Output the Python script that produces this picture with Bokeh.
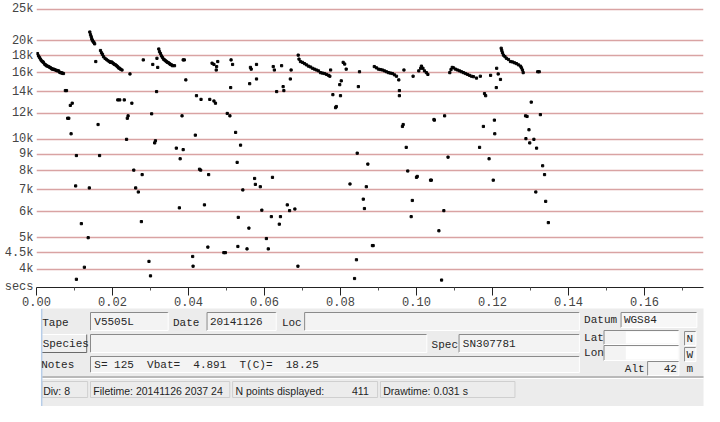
import numpy as np
from bokeh.plotting import figure
from bokeh.layouts import column
from bokeh.models import Range1d, FixedTicker, PrintfTickFormatter
from bokeh.embed import file_html
from bokeh.resources import INLINE
from bokeh.core.properties import value

# ---------------- data (time in s, frequency in kHz) ----------------
call1_t = [0.00026, 0.00053, 0.00079, 0.00105, 0.0013, 0.0016, 0.0018, 0.0021, 0.0024, 0.0026,
           0.0029, 0.0032, 0.0035, 0.0037, 0.0040, 0.0042, 0.0045, 0.0047, 0.0050, 0.0053,
           0.0055, 0.0058, 0.0061, 0.0063, 0.0066, 0.0068, 0.0071]
call1_f = [18.3, 18.0, 17.8, 17.6, 17.4, 17.3, 17.2, 17.0, 16.9, 16.8,
           16.75, 16.7, 16.6, 16.55, 16.45, 16.4, 16.4, 16.35, 16.3, 16.25,
           16.2, 16.2, 16.05, 16.0, 15.97, 15.95, 15.9]
call2_t = [0.01403, 0.01421, 0.0144, 0.01455, 0.0147, 0.0149, 0.0151, 0.0153]
call2_f = [21.3, 20.9, 20.6, 20.3, 20.1, 19.9, 19.8, 19.6]
call3_t = [0.01684, 0.01711, 0.01737, 0.01763, 0.01803, 0.01842, 0.01882, 0.01921, 0.01947, 0.01974,
           0.02, 0.02026, 0.02053, 0.02079, 0.02105, 0.02132, 0.02158, 0.02184, 0.02211, 0.0225]
call3_f = [18.7, 18.4, 18.2, 17.9, 17.7, 17.55, 17.4, 17.3, 17.2, 17.25,
           17.15, 17.05, 16.95, 16.9, 16.8, 16.7, 16.55, 16.5, 16.4, 16.3]
call4_t = [0.03218, 0.03237, 0.03263, 0.03289, 0.03316, 0.03342, 0.03368, 0.03395, 0.03421, 0.03447,
           0.03474, 0.035, 0.03526, 0.03553, 0.03579, 0.03632]
call4_f = [18.9, 18.55, 18.3, 18.0, 17.8, 17.6, 17.5, 17.4, 17.3, 17.2,
           17.15, 17.05, 16.95, 16.9, 16.8, 16.8]
call5_t = [0.06887, 0.06908, 0.06947, 0.07, 0.07053, 0.07105, 0.07158, 0.07211, 0.07263, 0.07316,
           0.07368, 0.07421, 0.07474, 0.07526, 0.07579, 0.07632, 0.07684]
call5_f = [18.1, 17.6, 17.3, 17.2, 17.05, 16.9, 16.75, 16.65, 16.5, 16.4,
           16.3, 16.2, 16.0, 15.95, 15.9, 15.8, 15.7]
call6_t = [0.0889, 0.08947, 0.09, 0.09053, 0.09105, 0.09158, 0.09211, 0.09263, 0.09316, 0.09368,
           0.09421, 0.09474, 0.09534]
call6_f = [16.7, 16.55, 16.4, 16.35, 16.3, 16.2, 16.1, 16.0, 15.95, 15.9, 15.75, 15.6, 15.2]
call7_t = [0.1006, 0.1011, 0.1013, 0.1017, 0.1021, 0.1026, 0.103]
call7_f = [16.2, 16.5, 16.75, 16.5, 16.2, 16.0, 15.8]
call8_t = [0.10876, 0.10908, 0.1094, 0.10974, 0.11026, 0.11079, 0.11132, 0.11184, 0.11237, 0.11289,
           0.11342, 0.11395, 0.11447, 0.115, 0.11579]
call8_f = [16.0, 16.35, 16.6, 16.55, 16.4, 16.3, 16.2, 16.1, 16.0, 15.9,
           15.8, 15.7, 15.6, 15.55, 15.4]
call9_t = [0.12229, 0.12245, 0.12263, 0.12289, 0.12329, 0.12368, 0.12421, 0.12474, 0.12526, 0.12579,
           0.12632, 0.12684, 0.12737, 0.12763, 0.12789, 0.12808]
call9_f = [19.0, 18.7, 18.4, 18.1, 17.9, 17.7, 17.55, 17.3, 17.25, 17.15,
           17.05, 16.9, 16.75, 16.55, 16.3, 16.0]

upper_t = [0.0076, 0.0079, 0.0094, 0.0089, 0.0082, 0.0085, 0.0091, 0.0156, 0.0162,
           0.0246, 0.0214, 0.0219, 0.0231, 0.0251, 0.0241, 0.0239, 0.0237,
           0.0281, 0.0303, 0.0306, 0.0316, 0.0313, 0.0311, 0.0319, 0.0317,
           0.0386, 0.0389, 0.0393, 0.0421, 0.0433, 0.0383, 0.0418, 0.0368, 0.0386,
           0.0462, 0.0467, 0.0477, 0.0474, 0.0473,
           0.0512, 0.0516, 0.0563, 0.0565, 0.0579, 0.0623, 0.0626, 0.0645, 0.067,
           0.0511, 0.0561, 0.0579, 0.0632, 0.0649, 0.0651, 0.0668,
           0.0456, 0.0467, 0.0471, 0.0502, 0.0509, 0.0524, 0.0537,
           0.0807, 0.0811, 0.0815, 0.085, 0.0774, 0.0772, 0.0798, 0.0802, 0.0847, 0.078, 0.08, 0.0787, 0.0789,
           0.0967, 0.0991, 0.0955, 0.0955, 0.0965, 0.0963, 0.0973,
           0.1046, 0.1047, 0.1074,
           0.1168, 0.1182, 0.1179, 0.1176, 0.1166, 0.1195, 0.1211, 0.1215, 0.1221, 0.121, 0.1205, 0.1206,
           0.1319, 0.1323, 0.1302, 0.1287, 0.1291, 0.1326, 0.1296, 0.1288, 0.1298, 0.1309, 0.1316]
upper_f = [14.1, 14.1, 12.9, 12.7, 11.6, 11.6, 10.4, 17.3, 11.1,
           15.85, 13.2, 13.2, 13.2, 12.9, 11.8, 11.6, 10.0,
           17.5, 11.97, 16.95, 14.0, 9.9, 9.75, 16.6, 17.7,
           17.5, 17.5, 15.2, 13.6, 13.25, 11.8, 10.3, 9.4, 9.3,
           17.1, 16.95, 17.3, 16.7, 16.3,
           17.5, 16.95, 16.6, 16.4, 16.95, 16.7, 16.3, 16.8, 16.3,
           14.4, 14.8, 15.3, 14.0, 14.5, 14.1, 15.3,
           13.25, 13.1, 12.9, 12.0, 11.8, 10.5, 9.6,
           17.2, 17.0, 16.4, 16.1, 16.3, 15.6, 14.7, 15.1, 14.5, 13.7, 13.6, 12.5, 12.6,
           16.3, 15.6, 14.1, 13.6, 11.1, 10.95, 9.45,
           11.5, 11.45, 11.8,
           15.6, 13.6, 13.8, 10.95, 9.45, 15.7, 16.5, 15.85, 15.25, 14.4, 11.45, 10.4,
           16.1, 16.1, 13.0, 11.8, 11.75, 11.9, 10.7, 10.05, 9.75, 10.0, 9.4]

lower_t = [0.0105, 0.0166, 0.0378, 0.0256, 0.0278, 0.0429, 0.0432, 0.0103, 0.0139, 0.0261, 0.0268,
           0.0376, 0.0442, 0.0118, 0.0276, 0.0136, 0.0296, 0.0411, 0.0412, 0.0126, 0.0105, 0.03,
           0.0844, 0.0528, 0.0872, 0.0453, 0.0574, 0.0576, 0.0589, 0.0621, 0.0543, 0.0825, 0.0868,
           0.086, 0.0863, 0.0593, 0.066, 0.0666, 0.068, 0.0531, 0.0618, 0.0642, 0.0639, 0.0559,
           0.0605, 0.0451, 0.053, 0.0554, 0.0493, 0.0497, 0.061, 0.0886, 0.0884, 0.0842, 0.0688, 0.0837,
           0.1083, 0.1191, 0.1332, 0.0977, 0.1, 0.1002, 0.1039, 0.1037, 0.1202, 0.1337, 0.1314,
           0.0989, 0.134, 0.1072, 0.0986, 0.1347, 0.1059, 0.1066]
lower_f = [8.92, 8.92, 8.72, 8.05, 7.8, 8.1, 8.05, 7.2, 7.1, 7.1, 6.9,
           6.17, 6.3, 5.52, 5.6, 5.0, 4.23, 4.38, 4.09, 4.06, 3.73, 3.82,
           9.07, 8.5, 8.4, 7.8, 7.59, 7.28, 7.16, 7.65, 7.0, 7.3, 7.16,
           6.56, 6.14, 6.07, 6.3, 6.05, 6.12, 5.77, 5.8, 5.8, 5.5, 5.35,
           4.97, 4.68, 4.7, 4.62, 4.5, 4.5, 4.62, 4.73, 4.73, 4.28, 4.09, 3.75,
           8.82, 8.72, 8.3, 8.0, 7.65, 7.7, 7.5, 7.5, 7.5, 7.8, 6.9,
           6.5, 6.46, 6.05, 5.8, 5.56, 5.25, 3.71]

y_ticks = [4000, 4500, 5000, 6000, 7000, 8000, 9000, 10000, 12000, 14000, 16000, 18000, 20000, 25000]
y_labels = ["4k", "4.5k", "5k", "6k", "7k", "8k", "9k", "10k", "12k", "14k", "16k", "18k", "20k", "25k"]
x_ticks = [0.0, 0.02, 0.04, 0.06, 0.08, 0.10, 0.12, 0.14, 0.16, 0.18]
x_minor = [0.01, 0.03, 0.05, 0.07, 0.09, 0.11, 0.13, 0.15, 0.17]

t_all = np.array(call1_t + call2_t + call3_t + call4_t + call5_t + call6_t + call7_t + call8_t + call9_t + upper_t + lower_t)
f_all = np.array(call1_f + call2_f + call3_f + call4_f + call5_f + call6_f + call7_f + call8_f + call9_f + upper_f + lower_f) * 1000.0

MONO_NAME = "'Liberation Mono'"
MONO = value(MONO_NAME)
SANS = value("Liberation Sans")
NB = "\u00a0"

# ---------------- chart ----------------
H_A = 308
p = figure(width=704, height=H_A, x_range=Range1d(0, 0.17553), y_range=Range1d(3520, 26600),
           y_axis_type="log", output_backend="svg", toolbar_location=None,
           min_border_left=36, min_border_right=1, min_border_top=0, min_border_bottom=0)
p.outline_line_color = None
p.background_fill_color = "white"
p.border_fill_color = "white"

p.yaxis.ticker = FixedTicker(ticks=[3530] + y_ticks)
ov = {3530: "secs"}
for tk, lb in zip(y_ticks, y_labels):
    ov[tk] = lb
p.yaxis.major_label_overrides = ov
p.yaxis.axis_line_color = None
p.yaxis.major_tick_out = 0
p.yaxis.major_tick_in = 0
p.yaxis.minor_tick_out = 0
p.yaxis.minor_tick_in = 0
p.yaxis.major_label_standoff = 3
p.yaxis.major_label_text_font = MONO_NAME
p.yaxis.major_label_text_font_size = "12px"
p.yaxis.major_label_text_color = "#444444"

p.xaxis.ticker = FixedTicker(ticks=x_ticks, minor_ticks=x_minor)
p.xaxis.formatter = PrintfTickFormatter(format="%.2f")
p.xaxis.axis_line_color = "#222222"
p.xaxis.major_tick_line_color = "#222222"
p.xaxis.minor_tick_line_color = "#555555"
p.xaxis.major_tick_out = 8
p.xaxis.major_tick_in = 0
p.xaxis.minor_tick_out = 3
p.xaxis.minor_tick_in = 0
p.xaxis.major_label_standoff = 1
p.xaxis.major_label_text_font = MONO_NAME
p.xaxis.major_label_text_font_size = "12px"
p.xaxis.major_label_text_color = "#444444"

p.xgrid.visible = False
p.ygrid.ticker = FixedTicker(ticks=y_ticks)
p.ygrid.grid_line_color = "#d9a3a3"
p.ygrid.grid_line_width = 1.5

p.scatter(t_all, f_all, marker="square", size=2.2, color="black")

# ---------------- form panel (reference pixel space) ----------------
fb = figure(width=704, height=406 - H_A, x_range=Range1d(0, 704), y_range=Range1d(406, H_A),
            output_backend="svg", toolbar_location=None, min_border=0,
            x_axis_location=None, y_axis_location=None)
fb.grid.visible = False
fb.outline_line_color = None
fb.background_fill_color = "white"
fb.border_fill_color = "white"

fb.quad(left=[6], right=[707], top=[305], bottom=[407], fill_color="#ececec", line_color=None)

def sunken(l, r, t, b, fill="#f3f3f3"):
    fb.quad(left=[l], right=[r], top=[t], bottom=[b], fill_color=fill, line_color=None)
    fb.segment(x0=[l, l], y0=[t, t], x1=[r, l], y1=[t, b], line_color="#8a8a8a", line_width=1)
    fb.segment(x0=[l, r], y0=[b, t], x1=[r, r], y1=[b, b], line_color="#ffffff", line_width=1)

def raised(l, r, t, b):
    fb.quad(left=[l], right=[r], top=[t], bottom=[b], fill_color="#f0f0f0", line_color=None)
    fb.segment(x0=[l, l], y0=[t, t], x1=[r, l], y1=[t, b], line_color="#ffffff", line_width=1)
    fb.segment(x0=[l, r], y0=[b, t], x1=[r, r], y1=[b, b], line_color="#6a6a6a", line_width=1)

for box in [(57, 139, 312, 330), (180, 253, 312, 330), (283, 573, 312, 330),
            (57, 412, 334, 352), (446, 573, 334, 352), (57, 573, 356, 372),
            (645, 678, 361, 375), (684, 696, 331, 345), (684, 696, 347, 361)]:
    sunken(*box)
sunken(617, 697, 312, 327, fill="#f7f7f7")
sunken(599, 678, 330, 344, fill="#f3f3f3")
sunken(599, 678, 345, 360, fill="#f3f3f3")
fb.quad(left=[622, 622], right=[677, 677], top=[331, 346], bottom=[343, 359], fill_color="white", line_color=None)
raised(5, 53, 334, 352)

fb.segment(x0=[6], y0=[376.5], x1=[707], y1=[376.5], line_color="#a8a8a8", line_width=1.5)
fb.segment(x0=[6], y0=[378], x1=[707], y1=[378], line_color="#ffffff", line_width=1)
for l, r in [(6, 54), (57, 204), (207, 360), (363, 505)]:
    fb.quad(left=[l], right=[r], top=[381], bottom=[397], fill_color=None, line_color="#cfcfcf", line_width=1)

fb.segment(x0=[5.5, 707], y0=[H_A, H_A], x1=[5.5, 707], y1=[407, 407], line_color="#b7cde8", line_width=1.5)

notes_text = NB.join(["S=", "125", "", "Vbat=", "", "4.891", "", "T(C)=", "", "18.25"])
mono_x = [6, 144, 259, 61, 183, 6.5, 417, 450, 5, 61, 578, 620, 578, 578, 686, 686, 621, 686]
mono_y = [322, 322, 322, 321, 321, 343, 344, 343, 364, 364, 319, 319, 337, 352, 338, 354, 368, 368]
mono_s = ["Tape", "Date", "Loc", "V5505L", "20141126", "Species", "Spec", "SN307781", "Notes",
          notes_text, "Datum", "WGS84", "Lat", "Lon", "N", "W", "Alt", "m"]
fb.text(x=mono_x, y=mono_y, text=mono_s, text_font=MONO, text_font_size="11px",
        text_baseline="middle", text_align="left", text_color="#262626")
fb.text(x=[676], y=[368], text=["42"], text_font=MONO, text_font_size="11px",
        text_baseline="middle", text_align="right", text_color="#262626")

fb.text(x=[7, 60, 210, 333, 366], y=[390] * 5,
        text=["Div: 8", "Filetime: 20141126 2037 24", "N points displayed:", "411", "Drawtime: 0.031 s"],
        text_font=SANS, text_font_size="10.5px", text_baseline="middle", text_align="left",
        text_color="#1e1e1e")

layout = column(p, fb, spacing=0)
open("out.html", "w").write(file_html(layout, INLINE))
